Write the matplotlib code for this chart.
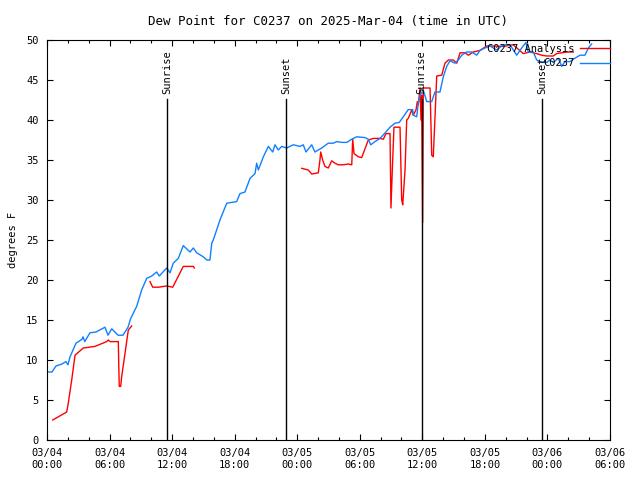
import matplotlib.pyplot as plt
import numpy as np

# Data (hours since 03/04 00:00 UTC, dew point in degrees F)
obs_hours = [0.10, 0.48, 0.86, 1.44, 1.82, 2.01, 2.21, 2.78, 3.36, 3.45, 3.62, 4.12, 4.70,
             5.56, 5.85, 6.21, 6.81, 7.29, 7.77, 8.03, 8.60, 9.08, 9.56, 10.04, 10.52,
             10.77, 11.48, 11.80, 12.11, 12.59, 13.07, 13.72, 14.03, 14.36, 14.99, 15.32,
             15.63, 15.80, 15.95, 16.59, 17.24, 18.19, 18.51, 18.99, 19.47, 19.95, 20.11,
             20.27, 20.75, 21.23, 21.65, 21.87, 22.18, 22.51, 22.99, 23.62, 24.27, 24.58,
             24.84, 25.39, 25.70, 26.35, 26.98, 27.46, 27.79, 28.27, 28.75, 29.23, 29.70,
             30.50, 30.82, 31.05, 31.46, 31.94, 32.51, 32.90, 33.38, 33.79, 34.17, 34.65,
             35.08, 35.13, 35.46, 35.61, 35.78, 36.09, 36.42, 36.90, 37.21, 37.69, 38.01,
             38.34, 38.65, 39.13, 39.45, 39.78, 40.26, 40.74, 41.22, 41.53, 42.01, 42.49,
             43.13, 43.77, 44.41, 45.05, 45.53, 45.94, 46.16, 46.64, 46.97, 47.45, 47.93,
             48.24, 48.56, 49.04, 49.37, 49.68, 50.16, 50.48, 51.12, 51.60, 51.92, 52.24]
obs_dewpt = [8.5, 8.5, 9.25, 9.5, 9.8, 9.4, 10.4, 12.1, 12.6, 12.9, 12.3, 13.4, 13.5,
             14.1, 13.1, 13.9, 13.1, 13.1, 14.1, 15.2, 16.7, 18.75, 20.2, 20.5, 21.0,
             20.5, 21.5, 20.9, 22.1, 22.7, 24.3, 23.5, 24.0, 23.4, 22.9, 22.5,
             22.5, 24.6, 25.0, 27.5, 29.6, 29.8, 30.8, 31.0, 32.7, 33.3, 34.6,
             33.75, 35.4, 36.7, 36.0, 36.9, 36.25, 36.7, 36.5, 36.9, 36.7, 36.9,
             36.0, 36.9, 36.0, 36.5, 37.1, 37.1, 37.3, 37.2, 37.2, 37.6, 37.9,
             37.8, 37.6, 36.9, 37.3, 37.7, 38.5, 39.1, 39.6, 39.7, 40.4, 41.3,
             41.3, 40.6, 40.4, 42.1, 43.1, 43.75, 42.3, 42.3, 43.5, 43.5, 45.4,
             46.7, 47.4, 47.1, 47.5, 48.1, 48.5, 48.5, 48.1, 48.7, 49.0, 49.25,
             48.75, 49.4, 49.4, 48.1, 49.0, 49.7, 48.5, 48.5, 47.5, 47.2, 47.2,
             47.5, 47.2, 47.7, 46.7, 47.3, 47.3, 47.6, 48.1, 48.1, 49.0, 49.5]

# analysis series, gaps marked with nan
ana_hours = [0.55, 1.89, 2.04, 2.37, 2.69, 3.48, 4.60, 5.73, 5.88, 6.04, 6.84, 6.88, 6.93,
             7.07, 7.16, 7.48, 7.80, 8.12, 9.0,
             9.88, 10.14, 10.68, 11.48, 12.06, 13.07, 14.03, 14.13, 20.0,
             24.43, 25.06, 25.39, 26.02, 26.18, 26.25, 26.44, 26.66, 26.98, 27.31, 27.62,
             27.94, 28.42, 28.90, 29.23, 29.32, 29.45, 29.86, 30.18, 30.82, 31.30, 31.94,
             32.26, 32.51, 32.90, 32.99, 33.12, 33.28, 33.86, 34.02, 34.12, 34.34, 34.50,
             34.65, 34.98, 35.13, 35.39, 35.52, 35.61, 35.78, 35.87, 35.94, 36.03, 36.09,
             36.74, 36.90, 37.05, 37.21, 37.38, 37.86, 38.17, 38.49, 38.97, 39.30, 39.62,
             40.09, 40.41, 40.89, 41.53, 42.17, 42.65, 43.77, 44.72, 45.68, 46.33, 46.97,
             47.45, 47.93, 48.56, 48.88, 49.84, 50.48]
ana_dewpt = [2.5, 3.5, 4.6, 7.5, 10.6, 11.5, 11.7, 12.3, 12.5, 12.3, 12.3, 9.6, 6.7,
             6.7, 7.9, 10.8, 13.75, 14.25, np.nan,
             19.8, 19.1, 19.1, 19.25, 19.1, 21.7, 21.7, 21.5, np.nan,
             33.96, 33.75, 33.25, 33.4, 35.0, 36.0, 35.0, 34.2, 34.0, 34.9, 34.6,
             34.4, 34.4, 34.5, 34.4, 37.6, 35.8, 35.4, 35.3, 37.5, 37.7, 37.7,
             37.6, 38.3, 38.3, 29.0, 33.75, 39.1, 39.1, 30.0, 29.4, 33.75, 40.0,
             40.2, 41.25, 40.6, 41.25, 42.3, 41.9, 44.0, 40.0, 43.1, 27.2, 44.0,
             44.0, 35.6, 35.4, 40.2, 45.5, 45.6, 47.1, 47.5, 47.5, 47.1, 48.4,
             48.4, 48.1, 48.5, 48.7, 49.25, 49.25, 49.2, 49.4, 48.3, 48.5, 48.3,
             48.1, 48.0, 48.0, 48.3, 48.5, 48.5]

sun_hours = [11.54, 22.92, 35.94, 47.5]
sun_labels = ['Sunrise', 'Sunset', 'Sunrise', 'Sunset']

tick_hours = [0, 6, 12, 18, 24, 30, 36, 42, 48, 54]
tick_labels = ['03/04\n00:00', '03/04\n06:00', '03/04\n12:00', '03/04\n18:00',
               '03/05\n00:00', '03/05\n06:00', '03/05\n12:00', '03/05\n18:00',
               '03/06\n00:00', '03/06\n06:00']

plt.rcParams['font.family'] = 'DejaVu Sans Mono'
plt.rcParams['font.size'] = 7.5

fig = plt.figure(figsize=(6.4, 4.8), dpi=100)
ax = fig.add_axes([47 / 640, 40 / 480, 563 / 640, 400 / 480])

ax.plot(ana_hours, ana_dewpt, color='#ff0000', lw=1.0, label='C0237 Analysis')
ax.plot(obs_hours, obs_dewpt, color='#1080ff', lw=1.0, label='C0237')

# sunrise / sunset markers
for h, lab in zip(sun_hours, sun_labels):
    ax.plot([h, h], [0, 42.6], color='black', lw=1.0)
    ax.text(h, 43.3, lab, rotation=90, ha='center', va='bottom')

ax.set_xlim(0, 54)
ax.set_ylim(0, 50)
ax.set_xticks(tick_hours)
ax.set_xticklabels(tick_labels)
ax.set_xticks(np.arange(0, 55, 2), minor=True)
ax.set_yticks(np.arange(0, 51, 5))
ax.tick_params(which='both', direction='in', top=True, right=True, pad=6)
ax.tick_params(which='major', length=4, width=0.8)
ax.tick_params(which='minor', length=2, width=0.8)
for s in ax.spines.values():
    s.set_linewidth(0.8)

ax.set_ylabel('degrees F', labelpad=6)
ax.set_title('Dew Point for C0237 on 2025-Mar-04 (time in UTC)', pad=11)

ax.legend(loc='upper right', markerfirst=False, frameon=False, handlelength=2.9,
          borderaxespad=0, borderpad=0, labelspacing=0.4, handletextpad=0.5,
          bbox_to_anchor=(1.0, 0.99))

plt.savefig('out.png', dpi=100)
